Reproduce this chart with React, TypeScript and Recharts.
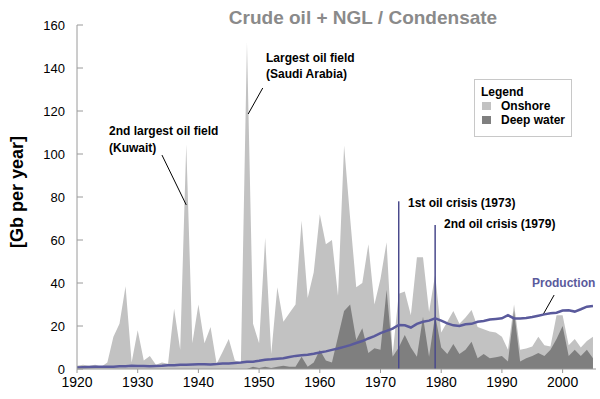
import React from 'react';
import {
    ComposedChart,
    Area,
    Line,
    XAxis,
    YAxis,
    ReferenceLine,
    Legend
} from 'recharts';

// discovery years 1920..2005
const years = [
    1920, 1921, 1922, 1923, 1924, 1925, 1926, 1927, 1928, 1929,
    1930, 1931, 1932, 1933, 1934, 1935, 1936, 1937, 1938, 1939,
    1940, 1941, 1942, 1943, 1944, 1945, 1946, 1947, 1948, 1949,
    1950, 1951, 1952, 1953, 1954, 1955, 1956, 1957, 1958, 1959,
    1960, 1961, 1962, 1963, 1964, 1965, 1966, 1967, 1968, 1969,
    1970, 1971, 1972, 1973, 1974, 1975, 1976, 1977, 1978, 1979,
    1980, 1981, 1982, 1983, 1984, 1985, 1986, 1987, 1988, 1989,
    1990, 1991, 1992, 1993, 1994, 1995, 1996, 1997, 1998, 1999,
    2000, 2001, 2002, 2003, 2004, 2005
];

const onshore = [
    1.5, 2, 1.5, 2, 1, 3, 15, 21, 38.5, 3,
    18, 4, 6, 2, 3, 2.5, 28, 9, 104.5, 12,
    30, 12, 19.5, 2.5, 8, 14, 4, 3, 152, 21,
    12, 61, 7, 38, 22, 26, 30, 69, 33, 45,
    72, 58, 60, 34, 104, 70, 38, 40, 58, 30,
    42, 59, 6.5, 35, 36, 25, 52, 52, 26.5, 44,
    17, 22, 27, 21, 24, 27.5, 19.5, 18.5, 17.5, 17,
    15, 9, 30, 9, 9.5, 10.5, 15, 11, 10.5, 25,
    25, 11, 14, 10, 13, 15
];

const deepWater = [
    0, 0, 0, 0, 0, 0, 0, 0, 0, 0,
    0, 0, 0, 0, 0, 0, 0, 0, 0, 0,
    0, 0, 0, 0, 0, 0, 0, 0, 0, 1,
    0.5, 1, 0.5, 1, 1.5, 1, 1, 5.7, 1, 3,
    8.8, 4, 3, 15, 27, 30, 13.5, 19, 7.4, 9.7,
    9, 36.7, 5.7, 10, 15.8, 10, 5.7, 24.3, 5.7, 25,
    10, 7, 11.6, 7, 9, 12.7, 5, 7, 5, 5.5,
    6, 3.5, 27, 3.5, 5, 6, 7.5, 6, 9, 14,
    20, 6, 9, 6, 9, 5
];

const production = [
    0.7, 0.8, 0.9, 1.0, 1.0, 1.1, 1.1, 1.3, 1.3, 1.5,
    1.4, 1.4, 1.3, 1.4, 1.5, 1.7, 1.8, 2.0, 2.0, 2.1,
    2.2, 2.2, 2.1, 2.3, 2.6, 2.6, 2.8, 3.0, 3.4, 3.4,
    3.8, 4.3, 4.5, 4.8, 5.0, 5.6, 6.1, 6.4, 6.6, 7.1,
    7.7, 8.2, 8.9, 9.5, 10.3, 11.1, 12.1, 13.0, 14.2, 15.3,
    16.7, 17.7, 18.8, 20.5, 20.3, 19.3, 21.0, 22.0, 22.5, 23.6,
    22.5, 21.2, 20.3, 20.0, 20.8, 21.0, 22.0, 22.3, 23.0, 23.3,
    23.6, 25.0, 23.5, 23.5, 23.7, 24.2, 24.8, 25.4, 25.9, 26.2,
    27.2, 27.3, 26.7, 27.8, 29.0, 29.3
];

const xTicks = [1920, 1930, 1940, 1950, 1960, 1970, 1980, 1990, 2000];
const yTicks = [0, 20, 40, 60, 80, 100, 120, 140, 160];

// oil crises: [year, height of marker line]
const crises = [
    { year: 1973, top: 78 },
    { year: 1979, top: 67 }
];

// leader lines in data units
const leaders = [
    [{ x: 1934.0, y: 99.5 }, { x: 1938.0, y: 76.3 }],
    [{ x: 1950.6, y: 130.7 }, { x: 1948.2, y: 118.6 }],
    [{ x: 1998.6, y: 34.4 }, { x: 1996.8, y: 25.4 }]
];

const legendItems = [
    { label: 'Onshore', color: '#c2c2c2' },
    { label: 'Deep water', color: '#7f7f7f' }
];

const chartData = years.map((year, i) => ({
    year,
    onshore: onshore[i],
    deepWater: deepWater[i],
    production: production[i]
}));

const FONT = '"Liberation Sans", Arial, sans-serif';
const LINE_BLUE = '#5a5a9c';

const txt: React.CSSProperties = {
    position: 'absolute',
    fontFamily: FONT,
    fontWeight: 'bold',
    fontSize: 12,
    color: '#000',
    whiteSpace: 'nowrap',
    lineHeight: '12px'
};

const LegendBox = () => (
    <div style={{
        border: '1.5px solid #c8c8c8',
        background: '#fff',
        width: 98,
        height: 58,
        boxSizing: 'border-box',
        padding: '5px 0 0 6px',
        fontFamily: FONT,
        fontWeight: 'bold',
        fontSize: 12,
        lineHeight: '14px',
        color: '#000'
    }}>
        <div>Legend</div>
        {legendItems.map((item) => (
            <div key={item.label} style={{ display: 'flex', alignItems: 'center' }}>
                <span style={{ width: 9, height: 8, background: item.color, display: 'inline-block', marginLeft: 1, marginRight: 10 }} />
                {item.label}
            </div>
        ))}
    </div>
);

const App: React.FC = () => {
    return (
        <div style={{ position: 'absolute', left: 0, top: 0, width: 600, height: 399, background: '#fff' }}>
            <ComposedChart
                width={600}
                height={399}
                data={chartData}
                margin={{ top: 25, right: 4, bottom: 0, left: 0 }}
            >
                <XAxis
                    dataKey="year"
                    type="number"
                    domain={[1920, 2005.5]}
                    ticks={xTicks}
                    height={30}
                    stroke="#9a9a9a"
                    tickSize={4}
                    tickMargin={4}
                    tick={{ fill: '#000', fontSize: 14, fontFamily: FONT }}
                />
                <YAxis
                    domain={[0, 160]}
                    ticks={yTicks}
                    width={77}
                    stroke="#9a9a9a"
                    tickSize={-6}
                    tickMargin={18}
                    tick={{ fill: '#000', fontSize: 13, fontFamily: FONT }}
                />
                <Legend
                    layout="horizontal"
                    verticalAlign="middle"
                    align="center"
                    content={() => <LegendBox />}
                    wrapperStyle={{ top: 79, left: 474, width: 'auto', height: 'auto' }}
                />
                <Area
                    type="linear"
                    dataKey="onshore"
                    name="Onshore"
                    stroke="none"
                    fill="#c2c2c2"
                    fillOpacity={1}
                    isAnimationActive={false}
                />
                <Area
                    type="linear"
                    dataKey="deepWater"
                    name="Deep water"
                    stroke="none"
                    fill="#7f7f7f"
                    fillOpacity={1}
                    isAnimationActive={false}
                />
                {crises.map((c) => (
                    <ReferenceLine
                        key={c.year}
                        segment={[{ x: c.year, y: 0 }, { x: c.year, y: c.top }]}
                        stroke="#4a4a8c"
                        strokeWidth={1.5}
                    />
                ))}
                {leaders.map((seg, i) => (
                    <ReferenceLine key={i} segment={seg} stroke="#000" strokeWidth={1} />
                ))}
                <Line
                    type="linear"
                    dataKey="production"
                    name="Production"
                    stroke={LINE_BLUE}
                    strokeWidth={2.5}
                    dot={false}
                    isAnimationActive={false}
                />
            </ComposedChart>

            <div style={{ ...txt, left: 0, width: 726, top: 8, fontSize: 19, lineHeight: '19px', color: '#8a8a8a', textAlign: 'center' }}>
                Crude oil + NGL / Condensate
            </div>
            <div style={{
                ...txt,
                fontSize: 18,
                lineHeight: '18px',
                fontWeight: 'bold',
                left: 17,
                top: 192,
                transform: 'translate(-50%, -50%) rotate(-90deg)'
            }}>
                [Gb per year]
            </div>
            <div style={{ ...txt, left: 109, top: 123, lineHeight: '17px' }}>
                2nd largest oil field<br />(Kuwait)
            </div>
            <div style={{ ...txt, left: 266, top: 50, lineHeight: '16px' }}>
                Largest oil field<br />(Saudi Arabia)
            </div>
            <div style={{ ...txt, left: 408, top: 197 }}>1st oil crisis (1973)</div>
            <div style={{ ...txt, left: 444, top: 218 }}>2nd oil crisis (1979)</div>
            <div style={{ ...txt, left: 532, top: 277, color: LINE_BLUE }}>Production</div>
        </div>
    );
};

export default App;
